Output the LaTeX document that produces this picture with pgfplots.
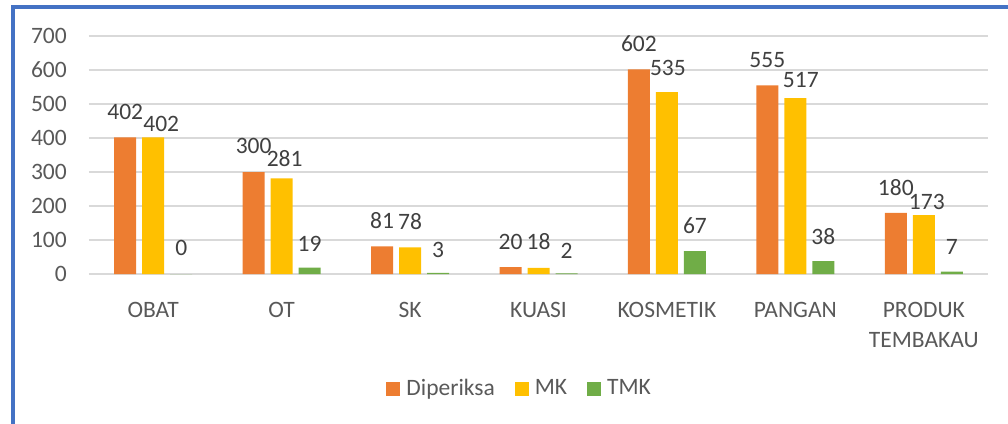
\documentclass[border=0pt]{standalone}
\usepackage{fontspec}
\setmainfont{Carlito}
\usepackage{pgfplots}
\usepackage{pgfplotstable}
\pgfplotsset{compat=1.18}
\definecolor{cOr}{HTML}{ED7D31}
\definecolor{cYe}{HTML}{FFC000}
\definecolor{cGr}{HTML}{70AD47}
\definecolor{cBl}{HTML}{4472C4}
\definecolor{cTx}{HTML}{595959}
\definecolor{cLb}{HTML}{404040}
\definecolor{cGd}{HTML}{D9D9D9}
\pgfplotstableread{
x y off xoff
0 402 17 0
1 300 18 0
2 81 17.5 0
3 20 17 0
4 602 17 0
5 555 17 0
6 180 16.5 0
}\tblD
\pgfplotstableread{
x y off xoff
0 402 5.4 8
1 281 12 3
2 78 17.6 0
3 18 17.6 0
4 535 16 1
5 517 10.3 5.5
6 173 5.3 3
}\tblMK
\pgfplotstableread{
x y off xoff
0 0 18.6 0
1 19 16 0
2 3 15.6 0
3 2 14.6 0
4 67 17.6 0
5 38 16.6 0
6 7 16.6 0
}\tblTMK
\begin{document}
\fontsize{23.5}{30}\selectfont
\begin{tikzpicture}
\begin{axis}[
  at={(89pt,149pt)}, anchor=south west,
  scale only axis, width=899pt, height=238pt,
  xmin=-0.5, xmax=6.5, ymin=0, ymax=700,
  enlargelimits=false, clip=false,
  axis line style={draw=none},
  tick style={draw=none},
  ytick={0,100,...,700},
  xtick={0,...,6},
  xticklabels={OBAT,OT,SK,KUASI,KOSMETIK,PANGAN,{PRODUK\\TEMBAKAU}},
  xticklabel style={align=center, anchor=north, inner sep=0pt, yshift=-24pt, text=cTx, font=\fontsize{23.5}{30}\selectfont},
  yticklabel style={anchor=east, inner sep=0pt, xshift=-22pt, text=cTx, font=\fontsize{23.5}{30}\selectfont},
  /pgf/number format/assume math mode=true,
  ymajorgrids, major grid style={color=cGd, line width=1.4pt},
  ybar=6pt, bar width=22pt,
  nodes near coords,
  every node near coord/.append style={inner sep=0pt, text=cLb, font=\fontsize{23.5}{30}\selectfont},
  legend columns=-1,
  legend style={at={(0.478,-0.483)}, anchor=center, draw=none, fill=none,
    font=\fontsize{23.5}{30}\selectfont, text=cTx,
    nodes={inner sep=0pt},
    /tikz/every odd column/.append style={column sep=6pt},
    /tikz/every even column/.append style={column sep=20pt}},
  legend image code/.code={\path[#1,draw=none] (0pt,-7pt) rectangle (14pt,7pt);},
]
\addplot[fill=cOr, draw=none,
  visualization depends on={\thisrow{off}\as\off},
  visualization depends on={\thisrow{xoff}\as\xoff},
  every node near coord/.append style={yshift=\off*1pt, xshift=\xoff*1pt}] table[x=x,y=y] {\tblD};
\addplot[fill=cYe, draw=none,
  visualization depends on={\thisrow{off}\as\off},
  visualization depends on={\thisrow{xoff}\as\xoff},
  every node near coord/.append style={yshift=\off*1pt, xshift=\xoff*1pt}] table[x=x,y=y] {\tblMK};
\addplot[fill=cGr, draw=none,
  visualization depends on={\thisrow{off}\as\off},
  visualization depends on={\thisrow{xoff}\as\xoff},
  every node near coord/.append style={yshift=\off*1pt, xshift=\xoff*1pt}] table[x=x,y=y] {\tblTMK};
\legend{Diperiksa,MK,TMK}
\end{axis}
\pgfresetboundingbox
\useasboundingbox (0,0) rectangle (1008pt,423pt);
\draw[cBl, line width=3.5pt] (13pt,-20pt) -- (13pt,416pt) -- (1030pt,416pt);
\end{tikzpicture}
\end{document}
